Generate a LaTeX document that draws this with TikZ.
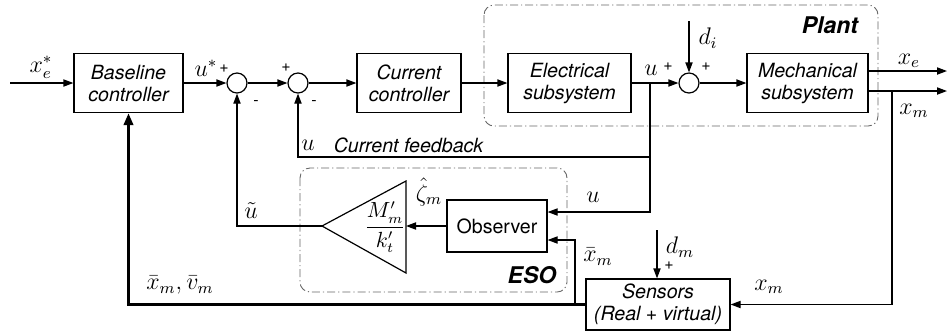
\documentclass[tikz,border=0pt]{standalone}
\usepackage{fontspec}
\setsansfont{TeX Gyre Heros}
\usepackage{amsmath}
\usetikzlibrary{arrows.meta,positioning}

\begin{document}
\begin{tikzpicture}[
    x=0.5pt, y=-0.5pt,
    every node/.style={font=\sffamily\fontsize{9.8}{11}\selectfont},
    block/.style={rectangle, draw, line width=0.6pt, minimum height=29.5pt, align=center, inner sep=1pt, font=\sffamily\itshape\fontsize{9.8}{11}\selectfont},
    sumnode/.style={circle, draw, line width=0.6pt, minimum size=10pt, inner sep=0pt},
    group/.style={draw=black!60, line width=0.45pt, rounded corners=5pt, dash pattern=on 4pt off 1.5pt on 0.6pt off 1.5pt},
    grouplabel/.style={font=\sffamily\bfseries\itshape\fontsize{11.5}{12}\selectfont},
    sign/.style={inner sep=0pt, font=\sffamily\fontsize{8}{8}\selectfont},
    lbl/.style={inner sep=0pt, font=\fontsize{11.5}{12}\selectfont},
    wire/.style={line width=0.6pt},
    arr/.style={-{Triangle[length=5pt, width=3.6pt]}, line width=0.6pt},
    bus/.style={-{Triangle[length=6pt, width=4.6pt]}, line width=1.5pt}
]
\useasboundingbox (0,0) rectangle (947,334);

% groups
\draw[group] (484,5) rectangle (878,126);
\draw[group] (300,168) rectangle (567,292);
\node[grouplabel] (plantlbl) at (830,25) {Plant};
\node[grouplabel] (esolbl) at (532,275) {ESO};

% forward path
\node[block, minimum width=54.5pt] (base) at (128.5,83) {Baseline\\controller};
\node[sumnode] (sum1) at (237,83) {};
\node[sumnode] (sum2) at (298,83) {};
\node[block, minimum width=52pt] (curctrl) at (409,83) {Current\\controller};
\node[block, minimum width=61.5pt] (elec) at (569.5,83) {Electrical\\subsystem};
\node[sumnode] (sum3) at (689,83) {};
\node[block, minimum width=60.5pt] (mech) at (807.5,83) {Mechanical\\subsystem};

% observer part
\node[block, minimum width=50pt, minimum height=26pt, font=\sffamily\fontsize{9.8}{11}\selectfont] (obs) at (497,226) {Observer};
\coordinate (gtip) at (322,226);
\coordinate (gtop) at (406,181);
\coordinate (gbot) at (406,273);
\coordinate (gin) at (406,226);
\draw[wire, line join=miter] (gtip) -- (gtop) -- (gbot) -- cycle;
\node[lbl, font=\fontsize{10.5}{12}\selectfont] (gain) at (385,227) {$\dfrac{M'_m}{k'_t}$};
\node[block, minimum width=72pt, minimum height=25.5pt] (sens) at (658,304.5) {Sensors\\(Real + virtual)};

% helper points
\coordinate (xin) at (10,83);
\coordinate (di) at (689,21);
\coordinate (utap) at (650,83);
\coordinate (cfb) at (650,157);
\coordinate (xeout) at (947,71);
\coordinate (xmout) at (947,91);
\coordinate (xmtap) at (892,91);
\coordinate (xbtap) at (575,304.5);
\coordinate (dm) at (657,230);

% connectors
\draw[arr] (xin) -- (base);
\draw[arr] (base) -- (sum1);
\draw[arr] (sum1) -- (sum2);
\draw[arr] (sum2) -- (curctrl);
\draw[arr] (curctrl) -- (elec);
\draw[arr] (elec) -- (sum3);
\draw[arr] (di) -- (sum3);
\draw[arr] (sum3) -- (mech);
\draw[arr] (xeout -| mech.east) -- (xeout);
\draw[arr] (xmout -| mech.east) -- (xmout);
\draw[arr] (xmtap) |- (sens.east);
\draw[arr] (dm) -- (dm |- sens.north);
\draw[wire] (utap) -- (cfb);
\draw[arr] (cfb) -| (sum2.south);
\draw[arr] (cfb) |- ([yshift=7pt]obs.east);
\draw[arr] (xbtap) |- ([yshift=-7pt]obs.east);
\draw[arr] (obs.west) -- (gin);
\draw[arr] (gtip) -| (sum1.south);
\draw[bus] (sens.west) -| (base.south);

% signal labels
\node[lbl] (lxe) at (41,67) {$x_e^*$};
\node[lbl] (lus) at (206,68) {$u^*$};
\node[sign] (p1) at (224,69) {+};
\node[sign] (m1) at (256,103) {-};
\node[sign] (p2) at (286,68) {+};
\node[sign] (m2) at (314,103) {-};
\node[lbl] (lu1) at (651,70) {$u$};
\node[sign] (p3) at (668,67) {+};
\node[sign] (p4) at (706,67) {+};
\node[lbl] (ldi) at (708,38) {$d_i$};
\node[lbl] (lxe2) at (909,61) {$x_e$};
\node[lbl] (lxm) at (914,111) {$x_m$};
\node[lbl] (lu2) at (308,145) {$u$};
\node[lbl, font=\sffamily\itshape\fontsize{9.8}{11}\selectfont] (lcf) at (408.5,145) {Current feedback};
\node[lbl] (lzeta) at (429,192) {$\hat{\zeta}_m$};
\node[lbl] (lut) at (251,211) {$\tilde{u}$};
\node[lbl] (lu3) at (593,197) {$u$};
\node[lbl] (lxb) at (598,257) {$\bar{x}_m$};
\node[lbl] (ldm) at (680,247) {$d_m$};
\node[sign] (p5) at (669,266) {+};
\node[lbl] (lxm2) at (769,287) {$x_m$};
\node[lbl] (lxv) at (180,285) {$\bar{x}_m, \bar{v}_m$};

\end{tikzpicture}
\end{document}
